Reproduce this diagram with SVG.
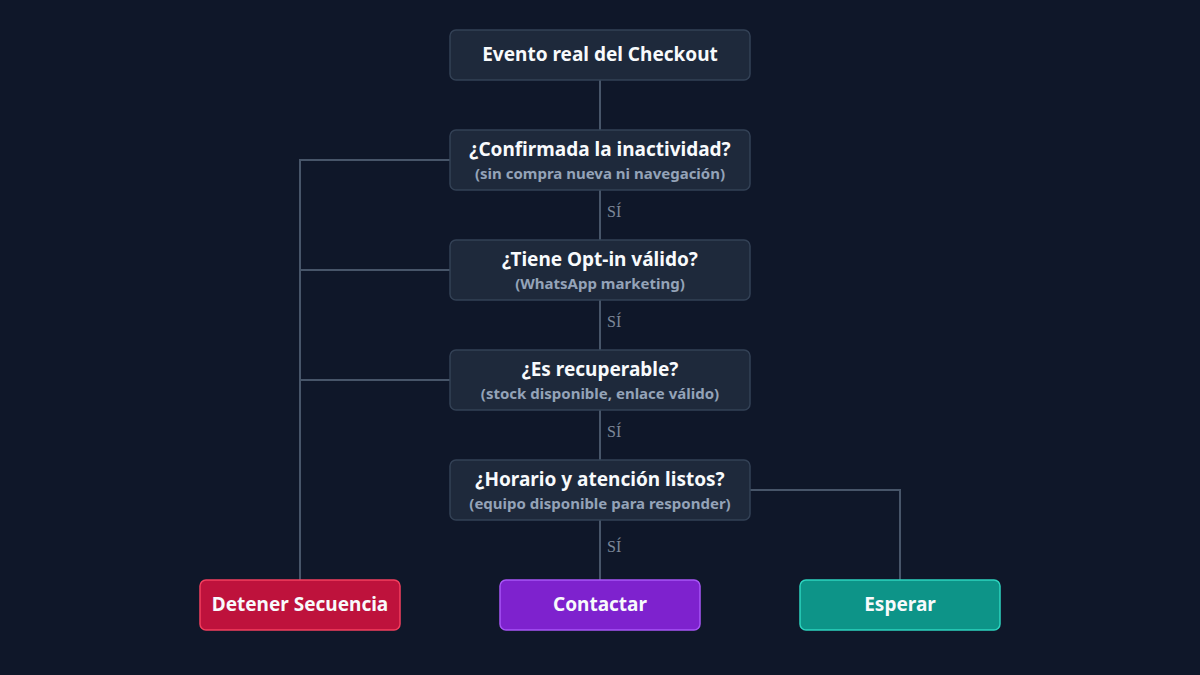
<svg xmlns="http://www.w3.org/2000/svg" width="1200" height="675" viewBox="0 0 1200 675">
<style>
.bg{fill:#0f1729}
.node rect{fill:#1e293b;stroke:#334155;stroke-width:1.5}
.t{font-family:"Noto Sans","Open Sans",sans-serif;font-weight:700;font-size:19px;fill:#f8fafc;text-anchor:middle}
.s{font-family:"Noto Sans","Open Sans",sans-serif;font-weight:700;font-size:15px;fill:#94a3b8;text-anchor:middle}
.c path{fill:none;stroke:#475569;stroke-width:2}
.yes{font-family:"Liberation Serif",serif;font-size:16px;fill:#7c8799}
</style>
<rect class="bg" width="1200" height="675"/>
<g class="c">
<path d="M600 80V130"/>
<path d="M600 190V240"/>
<path d="M600 300V350"/>
<path d="M600 410V460"/>
<path d="M600 520V580"/>
<path d="M450 160H300V580"/>
<path d="M450 270H300"/>
<path d="M450 380H300"/>
<path d="M750 490H900V580"/>
<text class="yes" x="607" y="217">SÍ</text>
<text class="yes" x="607" y="327">SÍ</text>
<text class="yes" x="607" y="437">SÍ</text>
<text class="yes" x="607" y="552">SÍ</text>
</g>
<g id="n0" class="node"><rect x="450" y="30" width="300" height="50" rx="6"/><text class="t" x="600" y="61">Evento real del Checkout</text></g>
<g id="n1" class="node"><rect x="450" y="130" width="300" height="60" rx="6"/><text class="t" x="600" y="156">¿Confirmada la inactividad?</text><text class="s" x="600" y="179">(sin compra nueva ni navegación)</text></g>
<g id="n2" class="node"><rect x="450" y="240" width="300" height="60" rx="6"/><text class="t" x="600" y="266">¿Tiene Opt-in válido?</text><text class="s" x="600" y="289">(WhatsApp marketing)</text></g>
<g id="n3" class="node"><rect x="450" y="350" width="300" height="60" rx="6"/><text class="t" x="600" y="376">¿Es recuperable?</text><text class="s" x="600" y="399">(stock disponible, enlace válido)</text></g>
<g id="n4" class="node"><rect x="450" y="460" width="300" height="60" rx="6"/><text class="t" x="600" y="486">¿Horario y atención listos?</text><text class="s" x="600" y="509">(equipo disponible para responder)</text></g>
<g id="stop"><rect x="200" y="580" width="200" height="50" rx="6" fill="#be123c" stroke="#f43f5e" stroke-width="1.5"/><text class="t" x="300" y="611">Detener Secuencia</text></g>
<g id="contact"><rect x="500" y="580" width="200" height="50" rx="6" fill="#7e22ce" stroke="#a855f7" stroke-width="1.5"/><text class="t" x="600" y="611">Contactar</text></g>
<g id="wait"><rect x="800" y="580" width="200" height="50" rx="6" fill="#0d9488" stroke="#2dd4bf" stroke-width="1.5"/><text class="t" x="900" y="611">Esperar</text></g>
</svg>
